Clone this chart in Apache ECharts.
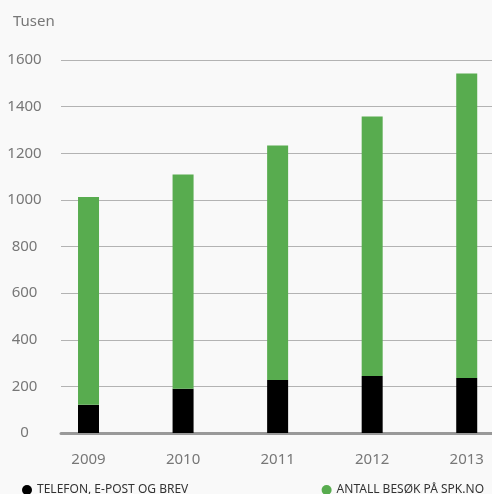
<!DOCTYPE html>
<html>
<head>
<meta charset="utf-8">
<script src="https://cdn.jsdelivr.net/npm/echarts@6/dist/echarts.min.js"></script>
<style>
html,body{margin:0;padding:0;background:#f9f9f9;overflow:hidden;width:492px;height:494px;}
#c{width:514px;height:494px;}
</style>
</head>
<body>
<div id="c"></div>
<script>
const years = ['2009', '2010', '2011', '2012', '2013'];
const telefonValues = [121, 190, 227, 245, 236];
const besokValues = [891, 919, 1006, 1113, 1306];
const yTicks = [0, 200, 400, 600, 800, 1000, 1200, 1400, 1600];
const seriesNames = ['TELEFON, E-POST OG BREV', 'ANTALL BESØK PÅ SPK.NO'];
const unitLabel = 'Tusen';

const font = 'Noto Sans';
const chart = echarts.init(document.getElementById('c'), null, {renderer: 'canvas'});
chart.setOption({
  backgroundColor: '#f9f9f9',
  animation: false,
  textStyle: {fontFamily: font},
  title: {
    text: unitLabel, left: 8, top: 9,
    textStyle: {fontFamily: font, fontSize: 15, fontWeight: 'normal', color: '#777'}
  },
  legend: [
    {data: [seriesNames[0]], left: 17, top: 479, icon: 'circle', itemWidth: 10, itemHeight: 10, itemGap: 5,
     textStyle: {fontFamily: font, fontSize: 12, color: '#333'}},
    {data: [seriesNames[1]], right: 25, top: 479, icon: 'circle', itemWidth: 10, itemHeight: 10, itemGap: 5,
     textStyle: {fontFamily: font, fontSize: 12, color: '#333'}}
  ],
  grid: [
    {left: 41.25, right: 0, top: 60, bottom: 61, containLabel: false},
    {left: 61, right: 22, top: 60, bottom: 61, containLabel: false}
  ],
  xAxis: [
    {type: 'category', gridIndex: 0, data: years,
     axisLine: {show: false}, axisTick: {show: false},
     axisLabel: {margin: 19, fontFamily: font, fontSize: 15, color: '#777'}},
    {type: 'value', gridIndex: 1, min: 0, max: 1, splitLine: {show: false},
     axisTick: {show: false}, axisLabel: {show: false},
     axisLine: {show: true, onZero: false, lineStyle: {color: '#999', width: 3}}}
  ],
  yAxis: [
    {type: 'value', gridIndex: 0, min: yTicks[0], max: yTicks[yTicks.length - 1], interval: 200,
     show: false, splitLine: {show: false}},
    {type: 'value', gridIndex: 1, min: yTicks[0], max: yTicks[yTicks.length - 1], interval: 200,
     axisLine: {show: false}, axisTick: {show: false},
     axisLabel: {margin: 36.5, align: 'center', fontFamily: font, fontSize: 15, color: '#777',
                 formatter: v => String(v)},
     splitLine: {show: true, lineStyle: {color: '#b3b3b3', width: 1}}}
  ],
  series: [
    {name: seriesNames[0], type: 'bar', stack: 'a', xAxisIndex: 0, yAxisIndex: 0,
     data: telefonValues, barWidth: 21, itemStyle: {color: '#000000'}},
    {name: seriesNames[1], type: 'bar', stack: 'a', xAxisIndex: 0, yAxisIndex: 0,
     data: besokValues, barWidth: 21, itemStyle: {color: '#58ac4f'}}
  ]
});
</script>
</body>
</html>
